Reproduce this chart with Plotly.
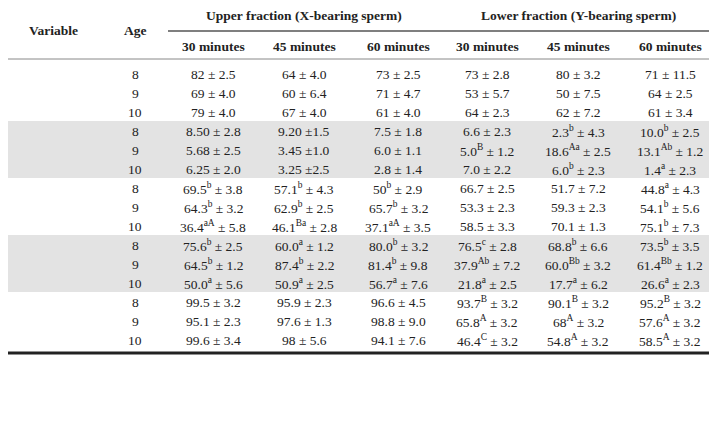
import plotly.graph_objects as go

variables = ["Motility (%)", "Abnormality", "Viability (%)", "IPM (%)", "AI (%)"]
ages = ["8", "9", "10"]
columns = ["30 minutes", "45 minutes", "60 minutes", "30 minutes", "45 minutes", "60 minutes"]

# one list per column, 15 rows (5 variables x 3 ages)
x30 = ["82 ± 2.5", "69 ± 4.0", "79 ± 4.0",
       "8.50 ± 2.8", "5.68 ± 2.5", "6.25 ± 2.0",
       "69.5<sup>b</sup> ± 3.8", "64.3<sup>b</sup> ± 3.2", "36.4<sup>aA</sup> ± 5.8",
       "75.6<sup>b</sup> ± 2.5", "64.5<sup>b</sup> ± 1.2", "50.0<sup>a</sup> ± 5.6",
       "99.5 ± 3.2", "95.1 ± 2.3", "99.6 ± 3.4"]
x45 = ["64 ± 4.0", "60 ± 6.4", "67 ± 4.0",
       "9.20 ±1.5", "3.45 ±1.0", "3.25 ±2.5",
       "57.1<sup>b</sup> ± 4.3", "62.9<sup>b</sup> ± 2.5", "46.1<sup>Ba</sup> ± 2.8",
       "60.0<sup>a</sup> ± 1.2", "87.4<sup>b</sup> ± 2.2", "50.9<sup>a</sup> ± 2.5",
       "95.9 ± 2.3", "97.6 ± 1.3", "98 ± 5.6"]
x60 = ["73 ± 2.5", "71 ± 4.7", "61 ± 4.0",
       "7.5 ± 1.8", "6.0 ± 1.1", "2.8 ± 1.4",
       "50<sup>b</sup> ± 2.9", "65.7<sup>b</sup> ± 3.2", "37.1<sup>aA</sup> ± 3.5",
       "80.0<sup>b</sup> ± 3.2", "81.4<sup>b</sup> ± 9.8", "56.7<sup>a</sup> ± 7.6",
       "96.6 ± 4.5", "98.8 ± 9.0", "94.1 ± 7.6"]
y30 = ["73 ± 2.8", "53 ± 5.7", "64 ± 2.3",
       "6.6 ± 2.3", "5.0<sup>B</sup> ± 1.2", "7.0 ± 2.2",
       "66.7 ± 2.5", "53.3 ± 2.3", "58.5 ± 3.3",
       "76.5<sup>c</sup> ± 2.8", "37.9<sup>Ab</sup> ± 7.2", "21.8<sup>a</sup> ± 2.5",
       "93.7<sup>B</sup> ± 3.2", "65.8<sup>A</sup> ± 3.2", "46.4<sup>C</sup> ± 3.2"]
y45 = ["80 ± 3.2", "50 ± 7.5", "62 ± 7.2",
       "2.3<sup>b</sup> ± 4.3", "18.6<sup>Aa</sup> ± 2.5", "6.0<sup>b</sup> ± 2.3",
       "51.7 ± 7.2", "59.3 ± 2.3", "70.1 ± 1.3",
       "68.8<sup>b</sup> ± 6.6", "60.0<sup>Bb</sup> ± 3.2", "17.7<sup>a</sup> ± 6.2",
       "90.1<sup>B</sup> ± 3.2", "68<sup>A</sup> ± 3.2", "54.8<sup>A</sup> ± 3.2"]
y60 = ["71 ± 11.5", "64 ± 2.5", "61 ± 3.4",
       "10.0<sup>b</sup> ± 2.5", "13.1<sup>Ab</sup> ± 1.2", "1.4<sup>a</sup> ± 2.3",
       "44.8<sup>a</sup> ± 4.3", "54.1<sup>b</sup> ± 5.6", "75.1<sup>b</sup> ± 7.3",
       "73.5<sup>b</sup> ± 3.5", "61.4<sup>Bb</sup> ± 1.2", "26.6<sup>a</sup> ± 2.3",
       "95.2<sup>B</sup> ± 3.2", "57.6<sup>A</sup> ± 3.2", "58.5<sup>A</sup> ± 3.2"]

notes = [
    "Note: Data are presented as mean standard deviation.",
    "<sup>A, B, C</sup> Different superscript letters in the same row indicate significantly different (<i>p</i> < 0.01).",
    "<sup>a,b,c</sup> Different superscript letters in the same column indicate significantly different (<i>p</i> < 0.01).",
    "Integrity plasma membrane; IPM.",
    "AI: Acrosome Integrity.",
]

FONT = "Liberation Serif, DejaVu Serif, serif"
TXT = "#222222"
col_x = [213, 304, 398, 487, 578, 670]
row0, step = 74, 19

fig = go.Figure()
ann = []
shapes = []

def add(x, y, text, size=13.5, bold=False, anchor="center"):
    ann.append(dict(x=x, y=y, text=f"<b>{text}</b>" if bold else text, showarrow=False,
                    xanchor=anchor, yanchor="middle",
                    font=dict(family=FONT, size=size, color=TXT)))

# grey bands for Abnormality and IPM
for g in (1, 3):
    top = row0 + g * 3 * step - 10
    shapes.append(dict(type="rect", x0=-10, x1=730, y0=top, y1=top + 3 * step,
                       fillcolor="#e3e3e3", line_width=0, layer="below"))

shapes.append(dict(type="line", x0=-10, x1=730, y0=1.5, y1=1.5, line=dict(color="#222", width=3)))
shapes.append(dict(type="line", x0=168, x1=730, y0=31, y1=31, line=dict(color="#555", width=1.5)))
shapes.append(dict(type="line", x0=-10, x1=730, y0=59, y1=59, line=dict(color="#888", width=1)))
shapes.append(dict(type="line", x0=-10, x1=730, y0=353, y1=353, line=dict(color="#222", width=3)))

add(53, 30, "Variable", bold=True)
add(135, 30, "Age", bold=True)
add(304, 15, "Upper fraction (X-bearing sperm)", bold=True)
add(578, 15, "Lower fraction (Y-bearing sperm)", bold=True)
for cx, c in zip(col_x, columns):
    add(cx, 46, c, bold=True)

data_cols = [x30, x45, x60, y30, y45, y60]
for i in range(15):
    y = row0 + i * step
    if i % 3 == 0:
        add(6, y, variables[i // 3], anchor="left")
    add(135, y, ages[i % 3])
    for cx, col in zip(col_x, data_cols):
        add(cx, y, col[i])

for j, n in enumerate(notes):
    add(3, 364 + j * 15.5, n, size=12, anchor="left")

# page has an 8px body margin, so shift the data window by 8
fig.update_layout(
    width=717, height=440, margin=dict(l=0, r=0, t=0, b=0),
    paper_bgcolor="white", plot_bgcolor="white",
    xaxis=dict(range=[8, 725], visible=False, fixedrange=True),
    yaxis=dict(range=[448, 8], visible=False, fixedrange=True),
    annotations=ann, shapes=shapes, showlegend=False,
)
fig.write_html("out.html")
